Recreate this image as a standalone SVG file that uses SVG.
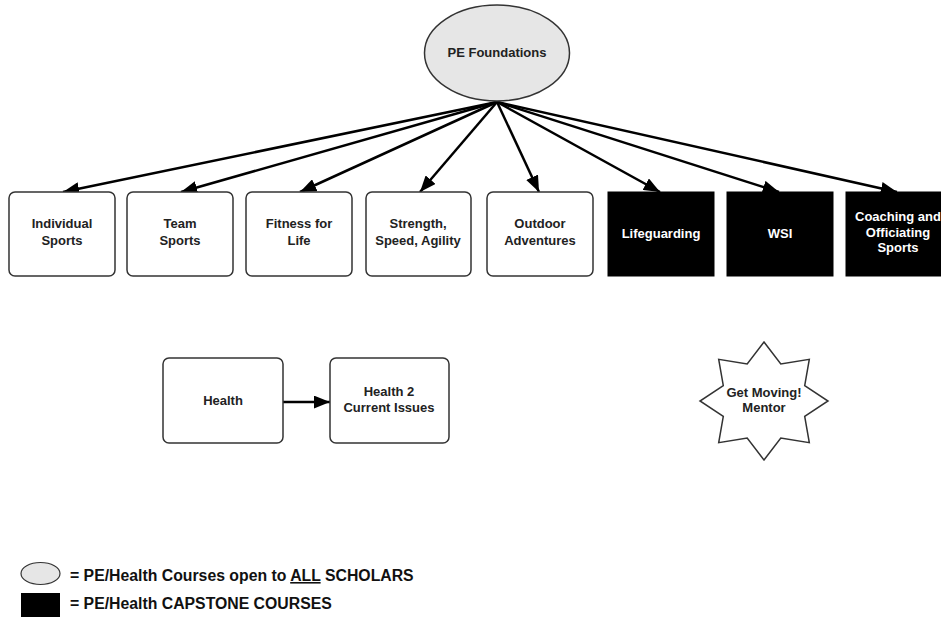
<svg xmlns="http://www.w3.org/2000/svg" width="941" height="617" viewBox="0 0 941 617">
<style>
.box{fill:#fff;stroke:#333;stroke-width:1.5}
.cap{fill:#000;stroke:#000;stroke-width:1}
.t{font-family:"Liberation Sans",Arial,sans-serif;font-weight:bold;font-size:13px;fill:#222;text-anchor:middle}
.tw{fill:#fff}
.lg{font-family:"Liberation Sans",Arial,sans-serif;font-weight:bold;font-size:15.8px;fill:#111}
.c{stroke:#000;stroke-width:2.5;fill:none;marker-end:url(#ah)}
</style>
<defs>
<marker id="ah" viewBox="0 0 10 8" refX="10" refY="4" markerWidth="6.5" markerHeight="5.2" orient="auto" markerUnits="strokeWidth">
<path d="M0,0 L10,4 L0,8 z" fill="#000"/>
</marker>
</defs>
<rect width="941" height="617" fill="#fff"/>
<g id="connectors">
<line class="c" x1="497" y1="102" x2="63" y2="192"/>
<line class="c" x1="497" y1="102" x2="181" y2="192"/>
<line class="c" x1="497" y1="102" x2="300" y2="192"/>
<line class="c" x1="497" y1="102" x2="420" y2="192"/>
<line class="c" x1="497" y1="102" x2="539" y2="192"/>
<line class="c" x1="497" y1="102" x2="660" y2="192"/>
<line class="c" x1="497" y1="102" x2="779" y2="192"/>
<line class="c" x1="497" y1="102" x2="897" y2="192"/>
<line class="c" x1="283" y1="402" x2="330" y2="402"/>
</g>
<g id="pe-foundations">
<ellipse cx="497" cy="53" rx="72.5" ry="48" fill="#e6e6e6" stroke="#333" stroke-width="1.5"/>
<text class="t" x="497" y="57">PE Foundations</text>
</g>
<g id="individual-sports">
<rect class="box" x="9" y="192" width="106" height="84" rx="6"/>
<text class="t" x="62" y="228">Individual</text>
<text class="t" x="62" y="245">Sports</text>
</g>
<g id="team-sports">
<rect class="box" x="127" y="192" width="106" height="84" rx="6"/>
<text class="t" x="180" y="228">Team</text>
<text class="t" x="180" y="245">Sports</text>
</g>
<g id="fitness-for-life">
<rect class="box" x="246" y="192" width="106" height="84" rx="6"/>
<text class="t" x="299" y="228">Fitness for</text>
<text class="t" x="299" y="245">Life</text>
</g>
<g id="strength-speed-agility">
<rect class="box" x="366" y="192" width="105" height="84" rx="6"/>
<text class="t" x="418" y="228">Strength,</text>
<text class="t" x="418" y="245">Speed, Agility</text>
</g>
<g id="outdoor-adventures">
<rect class="box" x="487" y="192" width="106" height="84" rx="6"/>
<text class="t" x="540" y="228">Outdoor</text>
<text class="t" x="540" y="245">Adventures</text>
</g>
<g id="lifeguarding">
<rect class="cap" x="608" y="192" width="106" height="84"/>
<text class="t tw" x="661" y="238">Lifeguarding</text>
</g>
<g id="wsi">
<rect class="cap" x="727" y="192" width="106" height="84"/>
<text class="t tw" x="780" y="238">WSI</text>
</g>
<g id="coaching">
<rect class="cap" x="846" y="192" width="106" height="84"/>
<text class="t tw" x="898" y="221">Coaching and</text>
<text class="t tw" x="898" y="237">Officiating</text>
<text class="t tw" x="898" y="252">Sports</text>
</g>
<g id="health">
<rect class="box" x="163" y="358" width="120" height="85" rx="6"/>
<text class="t" x="223" y="405">Health</text>
</g>
<g id="health-2">
<rect class="box" x="330" y="358" width="119" height="85" rx="6"/>
<text class="t" x="389" y="396">Health 2</text>
<text class="t" x="389" y="412">Current Issues</text>
</g>
<g id="get-moving-mentor">
<polygon points="764,342 780.8,364 809.3,359.3 804.7,385.7 828,401 804.7,416.3 809.3,442.7 780.8,438 764,460 747.2,438 718.7,442.7 723.3,416.3 700,401 723.3,385.7 718.7,359.3 747.2,364" fill="#fff" stroke="#333" stroke-width="1.5"/>
<text class="t" x="764" y="397">Get Moving!</text>
<text class="t" x="764" y="412">Mentor</text>
</g>
<g id="legend">
<ellipse cx="40.5" cy="573.5" rx="19.5" ry="11" fill="#e6e6e6" stroke="#333" stroke-width="1.2"/>
<text class="lg" x="70" y="581">= PE/Health Courses open to <tspan text-decoration="underline">ALL</tspan> SCHOLARS</text>
<rect x="21" y="593" width="39" height="26" fill="#000"/>
<text class="lg" x="70" y="609">= PE/Health CAPSTONE COURSES</text>
</g>
</svg>
